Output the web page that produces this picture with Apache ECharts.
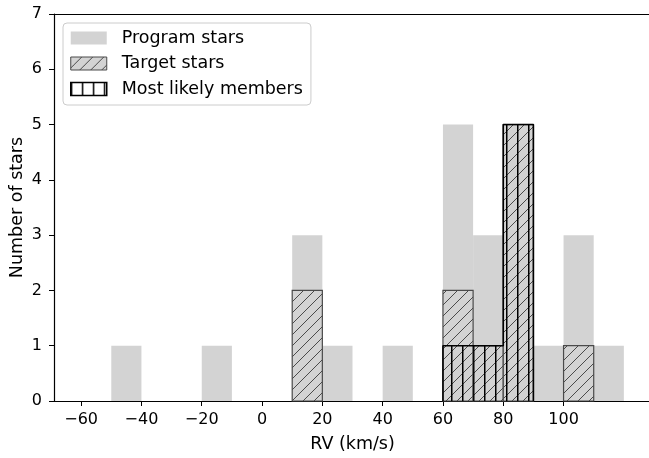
<!DOCTYPE html>
<html>
<head>
<meta charset="utf-8">
<script src="https://cdn.jsdelivr.net/npm/echarts@6/dist/echarts.min.js"></script>
<style>html,body{margin:0;padding:0;background:#fff}#c{width:649px;height:458px}</style>
</head>
<body>
<div id="c"></div>
<script>
// Data
const binStarts = [-50,-40,-30,-20,-10,0,10,20,30,40,50,60,70,80,90,100,110];
const binWidth = 10;
const programCounts = [1,0,0,1,0,0,3,1,0,1,0,5,3,5,1,3,1];
const targetCounts  = [0,0,0,0,0,0,2,0,0,0,0,2,1,5,0,1,0];
const memberCounts  = [0,0,0,0,0,0,0,0,0,0,0,1,1,5,0,0,0];
const xTicks = [-60,-40,-20,0,20,40,60,80,100];
const yTicks = [0,1,2,3,4,5,6,7];
const seriesNames = ['Program stars','Target stars','Most likely members'];

function toBins(counts){
  const out=[];
  counts.forEach((c,i)=>{ if(c>0) out.push([binStarts[i], binStarts[i]+binWidth, c]); });
  return out;
}
function stepOutline(counts){
  const bins = toBins(counts);
  const pts = [[bins[0][0],0]];
  bins.forEach(b=>{ pts.push([b[0],b[2]]); pts.push([b[1],b[2]]); });
  pts.push([bins[bins.length-1][1],0]);
  return pts;
}

function makePattern(type, color, bg, lw){
  const s = 11;
  const cv = document.createElement('canvas');
  cv.width = s; cv.height = s;
  const ctx = cv.getContext('2d');
  if (bg){ ctx.fillStyle = bg; ctx.fillRect(0,0,s,s); }
  ctx.strokeStyle = color; ctx.lineWidth = lw;
  ctx.beginPath();
  if (type==='diag'){
    ctx.moveTo(-1, s+1); ctx.lineTo(s+1, -1);
    ctx.moveTo(-1, 1); ctx.lineTo(1, -1);
    ctx.moveTo(s-1, s+1); ctx.lineTo(s+1, s-1);
  } else {
    ctx.moveTo(0.75, 0); ctx.lineTo(0.75, s);
  }
  ctx.stroke();
  return cv;
}
const gray = '#d3d3d3';
const diagPat = {image: makePattern('diag','#4a4a4a',gray,1), repeat:'repeat'};
const vertPat = {image: makePattern('vert','#000',null,1.5), repeat:'repeat'};

function barRender(style){
  return function(params, api){
    const a = api.coord([api.value(0), api.value(2)]);
    const b = api.coord([api.value(1), 0]);
    return {type:'rect', shape:{x:a[0], y:a[1], width:b[0]-a[0], height:b[1]-a[1]}, style: Object.assign({}, style)};
  };
}

const font = 'DejaVu Sans';
const chart = echarts.init(document.getElementById('c'), null, {renderer:'canvas'});
chart.setOption({
  animation:false,
  backgroundColor:'#fff',
  textStyle:{fontFamily:font},
  grid:{left:54, right:-2, top:14, bottom:57, containLabel:false, outerBoundsMode:'none'},
  legend:{
    show:true, left:63, top:23, orient:'vertical',
    itemWidth:36, itemHeight:13, itemGap:7.5,
    padding:[6,8,7,7],
    borderColor:'#cccccc', borderWidth:1, borderRadius:4,
    backgroundColor:'rgba(255,255,255,0.8)',
    textStyle:{fontFamily:font, fontSize:17.5, lineHeight:18, color:'#000', padding:[0,0,0,10]},
    icon:'rect',
    data:[
      {name:seriesNames[0], itemStyle:{color:gray, borderWidth:0}},
      {name:seriesNames[1], itemStyle:{color:diagPat, borderColor:'#4a4a4a', borderWidth:1}},
      {name:seriesNames[2], itemStyle:{color:vertPat, borderColor:'#000', borderWidth:1.5}}
    ]
  },
  xAxis:[{
    type:'value', min:-69, max:129,
    name:'RV (km/s)', nameLocation:'middle', nameGap:34, nameMoveOverlap:false,
    nameTextStyle:{fontFamily:font, fontSize:17.5, color:'#000'},
    axisLine:{show:true, onZero:false, lineStyle:{color:'#000', width:1.2}},
    axisTick:{show:true, length:5, customValues:xTicks, lineStyle:{color:'#000'}},
    axisLabel:{show:true, customValues:xTicks, margin:11, fontFamily:font, fontSize:16, color:'#000',
      formatter:v=>String(v).replace('-','\u2212')},
    splitLine:{show:false}
  },{
    type:'value', position:'top', min:-69, max:129,
    axisLine:{show:true, onZero:false, lineStyle:{color:'#000', width:1.2}},
    axisTick:{show:false}, axisLabel:{show:false}, splitLine:{show:false}
  }],
  yAxis:{
    type:'value', min:0, max:7, interval:1,
    name:'Number of stars', nameLocation:'middle', nameGap:28, nameMoveOverlap:false,
    nameTextStyle:{fontFamily:font, fontSize:17.5, color:'#000'},
    axisLine:{show:true, onZero:false, lineStyle:{color:'#000', width:1.2}},
    axisTick:{show:true, length:5, lineStyle:{color:'#000'}},
    axisLabel:{margin:12, fontFamily:font, fontSize:16, color:'#000'},
    splitLine:{show:false}
  },
  series:[
    {name:seriesNames[0], type:'custom', renderItem:barRender({fill:gray}),
     data:toBins(programCounts), encode:{x:[0,1], y:2}, z:1},
    {name:seriesNames[1], type:'custom', renderItem:barRender({fill:diagPat, stroke:'#4a4a4a', lineWidth:1.2}),
     data:toBins(targetCounts), encode:{x:[0,1], y:2}, z:2},
    {name:seriesNames[2], type:'custom', renderItem:barRender({fill:vertPat}),
     data:toBins(memberCounts), encode:{x:[0,1], y:2}, z:3},
    {name:'members outline', type:'line', data:stepOutline(memberCounts), symbol:'none',
     lineStyle:{color:'#000', width:1.6}, z:4}
  ]
});
</script>
</body>
</html>
